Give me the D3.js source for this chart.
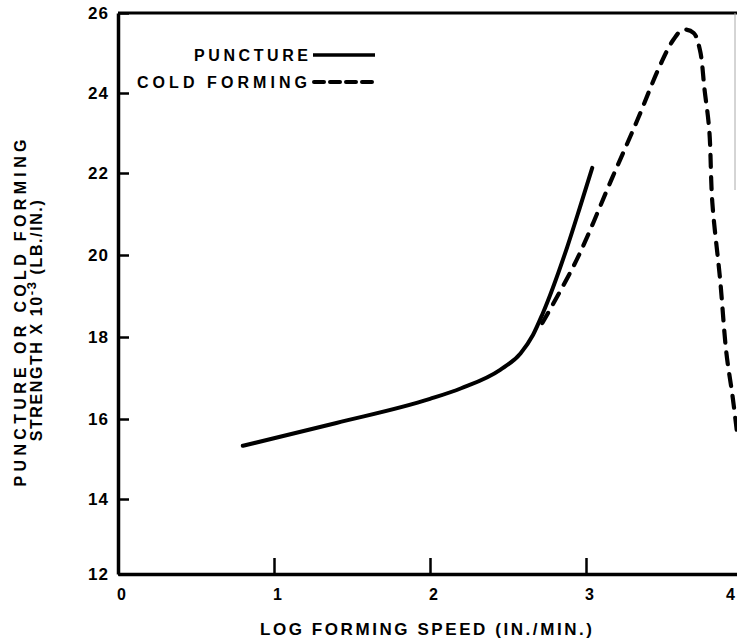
<!DOCTYPE html>
<html>
<head>
<meta charset="utf-8">
<script src="https://cdn.jsdelivr.net/npm/d3@7"></script>
<style>
  html, body { margin: 0; padding: 0; background: #fff; }
  svg { display: block; }
  text { font-family: "Liberation Sans", Arial, Helvetica, sans-serif; font-weight: bold; fill: #000; }
</style>
</head>
<body>
<script>
// ---- data ----
const xTicks = [0, 1, 2, 3, 4];
const yTicks = [12, 14, 16, 18, 20, 22, 24, 26];

const punctureX = [0.80, 1.40, 2.00, 2.20, 2.45, 2.58, 2.66, 2.72, 2.88, 2.96, 3.04];
const punctureY = [15.33, 15.90, 16.49, 16.75, 17.20, 17.60, 18.05, 18.55, 20.20, 21.15, 22.13];

const coldX = [2.72, 2.94, 3.17, 3.33, 3.47, 3.56, 3.62, 3.69, 3.73, 3.76, 3.79, 3.81, 3.86, 3.90, 3.94, 3.97];
const coldY = [18.34, 19.88, 21.90, 23.33, 24.65, 25.33, 25.58, 25.50, 25.08, 24.08, 23.08, 21.27, 19.39, 17.61, 16.54, 15.60];

const legendLabels = ["PUNCTURE", "COLD FORMING"];
const xTitle = "LOG FORMING SPEED (IN./MIN.)";

// ---- layout ----
const W = 737, H = 638;
const svg = d3.select("body").append("svg").attr("width", W).attr("height", H);

const x = d3.scaleLinear().domain([0, 4]).range([118, 742]);
// scanned figure: tick spacing is slightly uneven, follow it with a polylinear scale
const y = d3.scaleLinear().domain(yTicks).range([574, 499, 419, 337, 255, 173, 93, 13]);

// frame: top border and faint right border
svg.append("line").attr("x1", 118).attr("x2", W).attr("y1", y(26)).attr("y2", y(26))
  .attr("stroke", "#000").attr("stroke-width", 3);
svg.append("line").attr("x1", 735).attr("x2", 735).attr("y1", y(26)).attr("y2", 190)
  .attr("stroke", "#aaa").attr("stroke-width", 1);

// y axis
const yAxis = svg.append("g").attr("transform", `translate(${x(0)},0)`)
  .call(d3.axisLeft(y).tickValues(yTicks).tickFormat(d3.format("d"))
    .tickSize(-11).tickSizeOuter(0).tickPadding(9));
yAxis.select(".domain").attr("stroke-width", 3.5);
yAxis.selectAll(".tick line").attr("stroke-width", 2.5);
yAxis.selectAll(".tick text").style("font-size", "17px").style("letter-spacing", "1px")
  .attr("font-family", null);

// x axis
const xAxis = svg.append("g").attr("transform", `translate(0,${y(12)})`)
  .call(d3.axisBottom(x).tickValues(xTicks).tickFormat(d3.format("d"))
    .tickSize(-16).tickSizeOuter(0).tickPadding(15));
xAxis.select(".domain").attr("stroke-width", 3.5);
xAxis.selectAll(".tick line").attr("stroke-width", 2.5);
xAxis.selectAll(".tick text").style("font-size", "16px").attr("font-family", null)
  .attr("dx", d => d === 4 ? -12 : 3);

// curves
const punct = punctureX.map((v, i) => [v, punctureY[i]]);
const cold = coldX.map((v, i) => [v, coldY[i]]);
const linePunct = d3.line().x(d => x(d[0])).y(d => y(d[1])).curve(d3.curveMonotoneX);
const lineCold = d3.line().x(d => x(d[0])).y(d => y(d[1])).curve(d3.curveCatmullRom.alpha(0.5));

svg.append("path").datum(punct).attr("d", linePunct)
  .attr("fill", "none").attr("stroke", "#000").attr("stroke-width", 4)
  .attr("stroke-linecap", "round").attr("stroke-linejoin", "round");
svg.append("path").datum(cold).attr("d", lineCold)
  .attr("fill", "none").attr("stroke", "#000").attr("stroke-width", 4.2)
  .attr("stroke-dasharray", "12,10").attr("stroke-linecap", "round");

// legend
const leg = svg.append("g");
leg.append("text").attr("x", 308).attr("y", 61).attr("text-anchor", "end")
  .style("font-size", "16px").attr("textLength", 114).attr("lengthAdjust", "spacing")
  .text(legendLabels[0]);
leg.append("line").attr("x1", 313).attr("x2", 375).attr("y1", 55).attr("y2", 55)
  .attr("stroke", "#000").attr("stroke-width", 3.5);
leg.append("text").attr("x", 307).attr("y", 88).attr("text-anchor", "end")
  .style("font-size", "16px").attr("textLength", 170).attr("lengthAdjust", "spacing")
  .text(legendLabels[1]);
leg.append("line").attr("x1", 314).attr("x2", 374).attr("y1", 82).attr("y2", 82)
  .attr("stroke", "#000").attr("stroke-width", 4)
  .attr("stroke-dasharray", "10,6").attr("stroke-linecap", "round");

// x title
svg.append("text").attr("x", 426).attr("y", 635).attr("text-anchor", "middle")
  .style("font-size", "17px").attr("textLength", 332).attr("lengthAdjust", "spacing")
  .text(xTitle);

// y title (two lines, rotated)
svg.append("text").attr("transform", "translate(26,313) rotate(-90)")
  .attr("text-anchor", "middle").style("font-size", "16px")
  .attr("textLength", 347).attr("lengthAdjust", "spacing")
  .text("PUNCTURE OR COLD FORMING");

const t2 = svg.append("text").attr("transform", "translate(42,320) rotate(-90)")
  .attr("text-anchor", "middle").style("font-size", "16px").style("letter-spacing", "1.6px");
t2.append("tspan").text("STRENGTH X 10");
t2.append("tspan").attr("dy", -6).style("font-size", "13px").text("-3");
t2.append("tspan").attr("dy", 6).text(" (LB./IN.)");
</script>
</body>
</html>
